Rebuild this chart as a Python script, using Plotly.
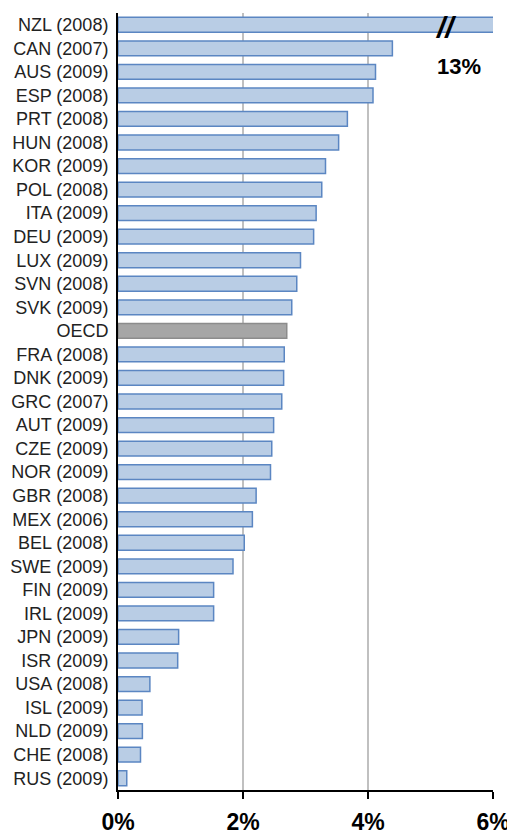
import plotly.graph_objects as go

countries = ["NZL (2008)", "CAN (2007)", "AUS (2009)", "ESP (2008)", "PRT (2008)",
             "HUN (2008)", "KOR (2009)", "POL (2008)", "ITA (2009)", "DEU (2009)",
             "LUX (2009)", "SVN (2008)", "SVK (2009)", "OECD", "FRA (2008)",
             "DNK (2009)", "GRC (2007)", "AUT (2009)", "CZE (2009)", "NOR (2009)",
             "GBR (2008)", "MEX (2006)", "BEL (2008)", "SWE (2009)", "FIN (2009)",
             "IRL (2009)", "JPN (2009)", "ISR (2009)", "USA (2008)", "ISL (2009)",
             "NLD (2009)", "CHE (2008)", "RUS (2009)"]
values = [13.0, 4.39, 4.12, 4.08, 3.67,
          3.53, 3.32, 3.26, 3.17, 3.13,
          2.92, 2.86, 2.78, 2.70, 2.66,
          2.65, 2.62, 2.49, 2.46, 2.44,
          2.21, 2.15, 2.02, 1.84, 1.53,
          1.53, 0.97, 0.955, 0.51, 0.385,
          0.39, 0.36, 0.14]
x_ticks = [0, 2, 4, 6]
x_tick_labels = ["0%", "2%", "4%", "6%"]
break_label = "13%"

fills = ["#a6a6a6" if c == "OECD" else "#b9cde5" for c in countries]
lines = ["#8c8c8c" if c == "OECD" else "#5b86c2" for c in countries]

fig = go.Figure(go.Bar(
    x=values, y=countries, orientation="h",
    marker=dict(color=fills, line=dict(color=lines, width=1.5)),
))

# page body has an 8px default margin, so the figure is sized/offset accordingly
fig.update_layout(
    width=507, height=824,
    margin=dict(l=110, r=22, t=5, b=42),
    paper_bgcolor="white", plot_bgcolor="white",
    bargap=0.37,
    showlegend=False,
    font=dict(family="Liberation Sans, Arial, sans-serif", color="#222"),
)
fig.update_xaxes(
    range=[0, 6], tickvals=x_ticks, ticktext=x_tick_labels,
    showgrid=True, gridcolor="#c0c0c0", gridwidth=2,
    showline=True, linecolor="black", linewidth=2,
    ticks="outside", ticklen=7, tickwidth=2, tickcolor="black",
    tickfont=dict(size=23, color="black", family="Liberation Sans, Arial, sans-serif", weight="bold"),
    zeroline=False, ticklabelstandoff=3, automargin=False,
)
fig.update_yaxes(
    range=[len(countries) - 0.5, -0.5], showgrid=False,
    showline=True, linecolor="black", linewidth=2,
    ticks="", tickfont=dict(size=18, color="#222"),
    ticklabelstandoff=4, automargin=False,
)
fig.add_annotation(x=5.24, y=countries[0], xref="x", yref="y",
                   text="<b><i>//</i></b>", showarrow=False,
                   font=dict(size=30, color="black"), yshift=-3)
fig.add_annotation(x=5.46, y=countries[1], xref="x", yref="y",
                   text="<b>" + break_label + "</b>", showarrow=False,
                   font=dict(size=22, color="black"), yshift=-18)

fig.write_html("out.html")
